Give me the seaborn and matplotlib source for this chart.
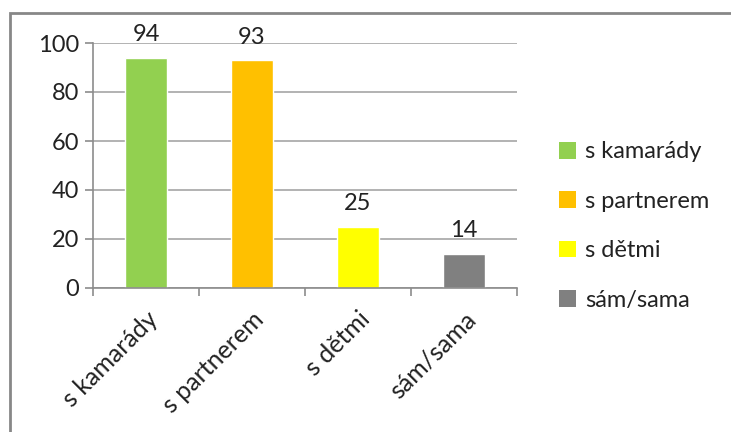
import matplotlib
matplotlib.use("Agg")
import matplotlib.pyplot as plt
import seaborn as sns
import pandas as pd
from matplotlib.patches import Rectangle, Patch

categories = ["s kamarády", "s partnerem", "s dětmi", "sám/sama"]
values = [94, 93, 25, 14]
colors = ["#92D050", "#FFC000", "#FFFF00", "#808080"]
yticks = [0, 20, 40, 60, 80, 100]

sns.set_theme(style="white")
plt.rcParams['font.family'] = ['Lato', 'DejaVu Sans']
FS = 17

df = pd.DataFrame({"cat": categories, "val": values})

fig = plt.figure(figsize=(7.31, 4.32), dpi=100)
ax = fig.add_axes([93/731, 1-288/432, (517-93)/731, (288-43)/432])

sns.barplot(data=df, x="cat", y="val", hue="cat", palette=colors,
            order=categories, hue_order=categories, dodge=False,
            width=0.4, saturation=1, legend=False, ax=ax)

for c in ax.containers:
    ax.bar_label(c, fmt="%d", padding=9, fontsize=FS, color="#222222")

ax.set_ylim(0, 100)
ax.set_xlim(-0.5, len(categories) - 0.5)
ax.set_yticks(yticks)
ax.set_yticklabels([str(t) for t in yticks], fontsize=FS, color="#222222")
ax.set_xlabel("")
ax.set_ylabel("")
ax.yaxis.grid(True, color="#A6A6A6", linewidth=1.2)
ax.set_axisbelow(True)

for s in ["top", "right"]:
    ax.spines[s].set_visible(False)
for s in ["left", "bottom"]:
    ax.spines[s].set_color("#8C8C8C")
    ax.spines[s].set_linewidth(1.2)

ax.tick_params(axis="y", which="major", direction="out", length=6, width=1.2,
               color="#8C8C8C", left=True, pad=4)
ax.set_xticks(range(len(categories)))
ax.set_xticklabels(categories, rotation=45, ha="right", rotation_mode="anchor",
                   fontsize=18, color="#222222")
ax.tick_params(axis="x", which="major", length=0, pad=14)
ax.set_xticks([i - 0.5 for i in range(len(categories) + 1)], minor=True)
ax.tick_params(axis="x", which="minor", direction="out", length=6, width=1.2,
               color="#8C8C8C", bottom=True)

handles = [Patch(facecolor=c, edgecolor="none") for c in colors]
fig.legend(handles, categories, loc="center left",
           bbox_to_anchor=(538/731, 1-226/432), frameon=False,
           fontsize=FS, labelspacing=1.2, handlelength=0.7, handleheight=0.7,
           handletextpad=0.4, labelcolor="#222222")

fig.patches.append(Rectangle((10/731, -0.1), 1.2, 1.1 - 13/432,
                             transform=fig.transFigure, fill=False,
                             edgecolor="#878787", linewidth=2))

fig.savefig("out.png", dpi=100)
